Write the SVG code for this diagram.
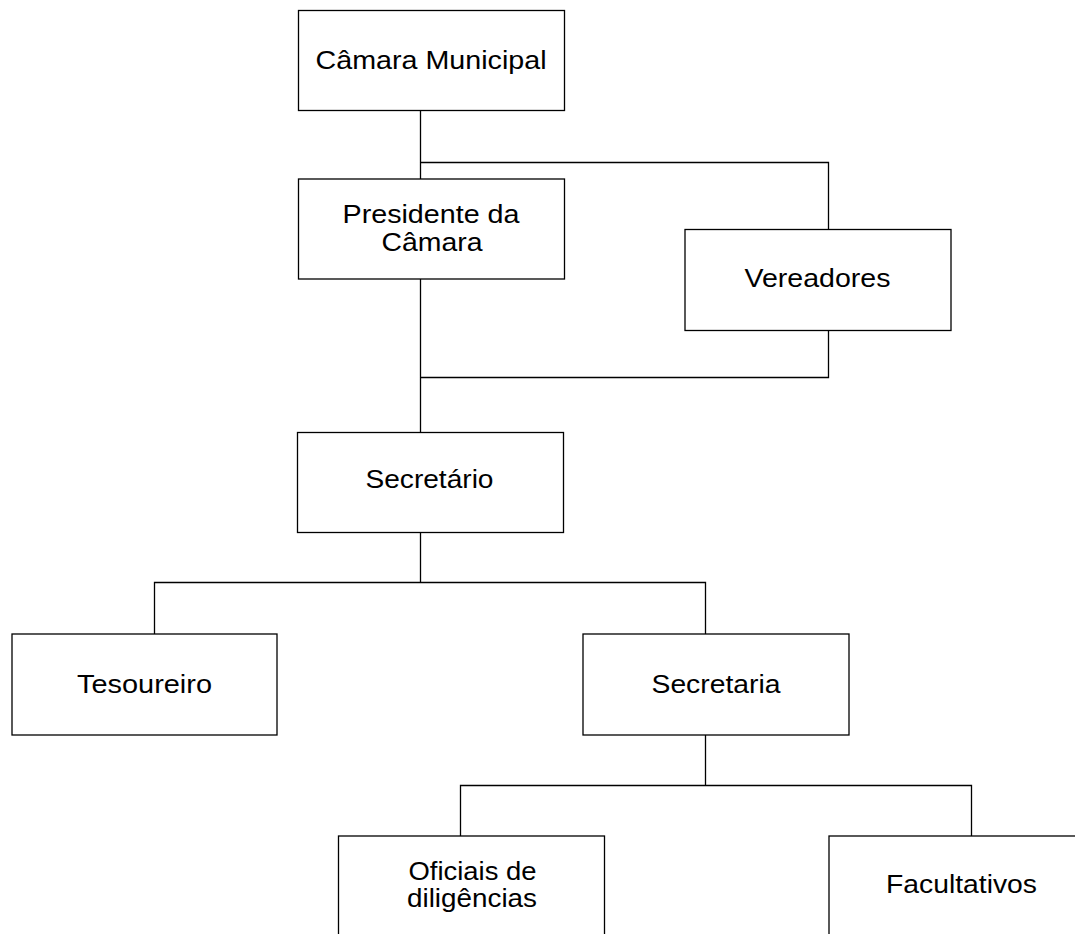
<svg xmlns="http://www.w3.org/2000/svg" width="1075" height="934" viewBox="0 0 1075 934">
<style>
.box{fill:#fff;stroke:#000;stroke-width:1.3}
.ln{fill:none;stroke:#000;stroke-width:1.3}
text{font-family:"Liberation Sans",Arial,sans-serif;font-size:25px;fill:#000;text-anchor:middle}
</style>
<rect width="1075" height="934" fill="#fff"/>
<g id="connectors">
<path class="ln" d="M420.5 110 V179 M420.5 162.5 H828.5 V229"/>
<path class="ln" d="M420.5 279 V432 M420.5 377.5 H828.5 V330"/>
<path class="ln" d="M420.5 533 V582.5 M154.5 634 V582.5 H705.5 V634"/>
<path class="ln" d="M705.5 735 V785.5 M460.5 836 V785.5 H971.5 V836"/>
</g>
<g id="camara-municipal"><rect class="box" x="298.5" y="10.5" width="266" height="100"/><text x="431" y="69" textLength="231" lengthAdjust="spacingAndGlyphs">Câmara Municipal</text></g>
<g id="presidente"><rect class="box" x="298.5" y="179" width="266" height="100"/><text x="431" y="223" textLength="177" lengthAdjust="spacingAndGlyphs">Presidente da</text><text x="432" y="251" textLength="101" lengthAdjust="spacingAndGlyphs">Câmara</text></g>
<g id="vereadores"><rect class="box" x="685" y="229.5" width="266" height="101"/><text x="817.5" y="287" textLength="146" lengthAdjust="spacingAndGlyphs">Vereadores</text></g>
<g id="secretario"><rect class="box" x="297.5" y="432.5" width="266" height="100"/><text x="429.5" y="488" textLength="128" lengthAdjust="spacingAndGlyphs">Secretário</text></g>
<g id="tesoureiro"><rect class="box" x="12" y="634" width="265" height="101"/><text x="144.5" y="693" textLength="135" lengthAdjust="spacingAndGlyphs">Tesoureiro</text></g>
<g id="secretaria"><rect class="box" x="583" y="634" width="266" height="101"/><text x="716" y="693" textLength="129" lengthAdjust="spacingAndGlyphs">Secretaria</text></g>
<g id="oficiais"><rect class="box" x="338.5" y="836" width="266" height="100"/><text x="472.5" y="880" textLength="128" lengthAdjust="spacingAndGlyphs">Oficiais de</text><text x="472" y="907" textLength="130" lengthAdjust="spacingAndGlyphs">diligências</text></g>
<g id="facultativos"><rect class="box" x="829" y="836" width="266" height="100"/><text x="961.5" y="893" textLength="151" lengthAdjust="spacingAndGlyphs">Facultativos</text></g>
</svg>
